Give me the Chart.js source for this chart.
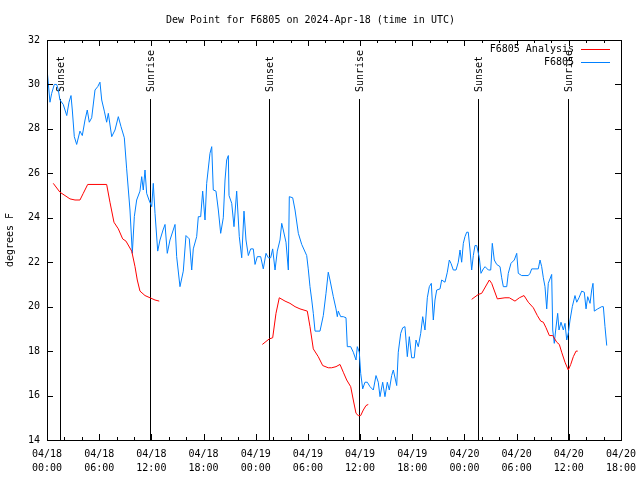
<!DOCTYPE html>
<html>
<head>
<meta charset="utf-8">
<script src="https://cdn.jsdelivr.net/npm/chart.js@4/dist/chart.umd.min.js"></script>
<style>
  html, body { margin: 0; padding: 0; background: #ffffff; }
  #wrap { width: 640px; height: 480px; }
</style>
</head>
<body>
<div id="wrap"><canvas id="c" width="640" height="480"></canvas></div>
<script>
// ---- data (hours since 2024-04-18 00:00 UTC) ----
const obsHours = [0.05,0.34,0.54,0.84,1.12,1.30,1.49,1.87,2.27,2.53,2.76,2.91,3.14,3.41,3.79,4.06,4.37,4.63,4.86,5.14,5.52,5.83,6.09,6.29,6.59,6.86,7.05,7.44,7.82,8.20,8.51,8.89,9.16,9.54,9.81,10.04,10.31,10.69,10.89,11.07,11.27,11.46,11.73,12.04,12.22,12.42,12.73,12.99,13.34,13.57,13.83,14.14,14.72,14.91,15.29,15.67,15.98,16.36,16.64,16.82,17.21,17.40,17.67,17.90,18.17,18.36,18.74,18.94,19.12,19.43,19.70,19.97,20.27,20.47,20.66,20.85,20.93,21.24,21.50,21.81,22.11,22.39,22.65,22.88,23.15,23.42,23.72,23.92,24.18,24.57,24.87,25.18,25.45,25.72,25.95,26.22,26.48,26.79,26.99,27.17,27.48,27.75,27.86,28.25,28.52,28.90,29.29,29.86,30.04,30.24,30.44,30.62,30.82,31.39,31.77,32.08,32.34,32.54,32.92,33.23,33.38,33.49,33.77,34.07,34.38,34.53,34.92,35.22,35.53,35.68,35.91,36.07,36.30,36.56,36.83,37.14,37.52,37.83,38.09,38.29,38.60,38.86,39.13,39.36,39.63,39.82,40.21,40.39,40.67,40.90,41.16,41.43,41.66,41.93,42.23,42.43,42.69,42.97,43.20,43.46,43.73,43.96,44.19,44.42,44.61,44.81,45.19,45.38,45.76,46.03,46.26,46.45,46.72,47.03,47.29,47.49,47.68,47.87,48.06,48.26,48.44,48.64,48.83,49.02,49.21,49.41,49.71,49.90,50.17,50.37,50.75,51.02,51.20,51.43,51.71,52.09,52.28,52.47,52.86,53.04,53.35,53.73,54.01,54.19,54.58,55.34,55.54,55.73,56.49,56.69,56.88,57.07,57.26,57.46,57.64,58.03,58.15,58.33,58.49,58.72,58.87,59.10,59.37,59.56,59.76,59.94,60.14,60.40,60.71,60.91,61.17,61.48,61.78,61.98,62.17,62.44,62.63,62.78,62.93,63.32,63.78,63.97,64.16,64.36];
const obsDewpt = [30.5,29.2,29.6,30.0,30.0,29.75,29.3,29.1,28.6,29.2,29.5,28.85,27.65,27.3,27.9,27.7,28.4,28.85,28.3,28.5,29.75,29.9,30.1,29.3,28.8,28.3,28.7,27.65,27.95,28.55,28.1,27.6,26.2,24.35,22.4,24.05,24.8,25.2,25.85,25.25,26.15,25.1,24.8,24.5,25.55,24.2,22.5,23.0,23.45,23.7,22.4,23.0,23.7,22.25,20.9,21.6,23.2,23.05,21.65,22.6,23.15,24.05,24.05,25.2,23.9,25.55,26.9,27.2,25.25,25.2,24.35,23.3,24.0,25.7,26.6,26.8,25.0,24.65,23.6,25.2,23.15,22.2,24.3,23.0,22.3,22.6,22.6,21.9,22.25,22.25,21.7,22.4,22.2,22.2,22.6,21.65,22.5,23.0,23.75,23.45,22.9,21.65,24.95,24.9,24.35,23.3,22.8,22.3,21.7,20.9,20.3,19.7,18.9,18.9,19.6,20.6,21.55,21.2,20.45,19.9,19.55,19.8,19.55,19.55,19.5,18.2,18.2,17.95,17.6,18.2,17.95,17.0,16.3,16.6,16.6,16.4,16.25,16.9,16.6,15.95,16.6,15.95,16.6,16.25,16.9,17.15,16.45,17.95,18.8,19.05,19.1,17.75,18.65,17.7,17.7,18.5,18.2,18.8,19.55,18.95,20.4,20.9,21.05,19.4,20.3,20.75,20.8,21.2,21.1,21.55,22.1,21.95,21.65,21.65,22.0,22.55,22.0,22.85,23.15,23.35,23.35,22.55,21.65,22.3,22.75,22.75,22.2,21.5,21.7,21.8,21.65,21.65,22.85,22.1,21.9,21.8,21.3,20.9,20.9,21.5,21.95,22.1,22.4,21.5,21.4,21.4,21.5,21.7,21.7,22.1,21.8,21.3,20.9,19.9,21.05,21.45,18.95,18.35,18.95,19.7,18.95,19.3,18.95,19.25,18.5,18.8,19.4,20.0,20.5,20.2,20.4,20.7,20.65,19.9,20.45,20.15,20.75,21.05,19.8,19.9,20.0,20.0,19.1,18.25];

const analysisHours = [0.72,1.49,2.07,2.64,3.22,3.79,4.17,4.68,6.86,7.24,7.70,8.20,8.70,9.08,9.74,10.12,10.38,10.69,11.27,11.84,12.42,12.91,
  18.0,
  24.76,25.56,25.95,26.33,26.71,27.37,27.94,28.52,29.09,29.93,30.24,30.62,31.19,31.70,32.34,32.73,33.23,33.69,34.07,34.46,34.92,35.22,35.53,35.79,36.07,36.37,36.68,36.94,
  43.0,
  48.83,49.59,49.98,50.86,51.13,51.78,52.66,53.16,53.81,54.31,54.85,55.34,55.92,56.38,56.77,57.07,57.38,57.76,58.15,58.61,58.91,59.18,59.56,59.94,60.22,60.52,60.83,61.02];
const analysisDewpt = [25.55,25.15,25.0,24.85,24.8,24.8,25.1,25.5,25.5,24.7,23.8,23.5,23.05,22.95,22.5,21.8,21.2,20.7,20.5,20.4,20.3,20.25,
  null,
  18.3,18.55,18.6,19.7,20.4,20.25,20.15,20.0,19.9,19.8,19.1,18.1,17.75,17.35,17.25,17.25,17.3,17.4,17.05,16.7,16.4,15.8,15.2,15.1,15.1,15.35,15.55,15.6,
  null,
  20.33,20.55,20.6,21.2,21.05,20.35,20.4,20.4,20.25,20.4,20.5,20.2,19.95,19.6,19.35,19.3,19.05,18.7,18.7,18.4,18.3,17.95,17.5,17.15,17.4,17.75,18.0,18.0];

const eventHours = [1.53, 11.88, 25.56, 35.87, 49.59, 59.92];
const eventLabels = ['Sunset', 'Sunrise', 'Sunset', 'Sunrise', 'Sunset', 'Sunrise'];

const xTickHours = [0, 6, 12, 18, 24, 30, 36, 42, 48, 54, 60, 66];
const xTickLabels = [['04/18','00:00'],['04/18','06:00'],['04/18','12:00'],['04/18','18:00'],
                     ['04/19','00:00'],['04/19','06:00'],['04/19','12:00'],['04/19','18:00'],
                     ['04/20','00:00'],['04/20','06:00'],['04/20','12:00'],['04/20','18:00']];
const seriesNames = ['F6805 Analysis', 'F6805'];
const chartTitle = 'Dew Point for F6805 on 2024-Apr-18 (time in UTC)';

// ---- styling ----
const FONT = '"DejaVu Sans Mono", monospace';
const RED = '#ff0000';
const BLUE = '#0080ff';

const obsPoints = obsHours.map((h, i) => ({ x: h, y: obsDewpt[i] }));
const analysisPoints = analysisHours.map((h, i) => ({ x: h, y: analysisDewpt[i] }));

const decorPlugin = {
  id: 'decor',
  beforeDatasetsDraw(chart) {
    const { ctx, chartArea: a, scales } = chart;
    ctx.save();
    ctx.strokeStyle = '#000';
    ctx.lineWidth = 1;
    ctx.fillStyle = '#000';
    ctx.font = '10px ' + FONT;
    eventHours.forEach((h, i) => {
      const x = Math.round(scales.x.getPixelForValue(h)) + 0.5;
      ctx.beginPath();
      ctx.moveTo(x, 99);
      ctx.lineTo(x, a.bottom);
      ctx.stroke();
      ctx.save();
      ctx.translate(x + 1, 92);
      ctx.rotate(-Math.PI / 2);
      ctx.textAlign = 'left';
      ctx.textBaseline = 'middle';
      ctx.fillText(eventLabels[i], 0, 0);
      ctx.restore();
    });
    ctx.restore();
  },
  afterDatasetsDraw(chart) {
    const { ctx, chartArea: a, scales } = chart;
    ctx.save();
    ctx.strokeStyle = '#000';
    ctx.lineWidth = 1;
    // frame
    ctx.strokeRect(a.left + 0.5, a.top + 0.5, a.right - a.left, a.bottom - a.top);
    // x ticks (every 2h, major every 6h), inward on bottom and top
    ctx.beginPath();
    for (let h = 2; h < 66; h += 2) {
      const x = Math.round(scales.x.getPixelForValue(h)) + 0.5;
      const len = (h % 6 === 0) ? 6 : 3;
      ctx.moveTo(x, a.bottom); ctx.lineTo(x, a.bottom - len);
      ctx.moveTo(x, a.top); ctx.lineTo(x, a.top + len);
    }
    // y ticks inward on left and right
    for (let v = 16; v < 32; v += 2) {
      const y = Math.round(scales.y.getPixelForValue(v)) + 0.5;
      ctx.moveTo(a.left, y); ctx.lineTo(a.left + 6, y);
      ctx.moveTo(a.right, y); ctx.lineTo(a.right - 6, y);
    }
    ctx.stroke();
    // legend
    ctx.font = '10px ' + FONT;
    ctx.fillStyle = '#000';
    ctx.textAlign = 'right';
    ctx.textBaseline = 'middle';
    const colors = [RED, BLUE];
    const ys = [49, 62];
    seriesNames.forEach((name, i) => {
      ctx.fillText(name, 574, ys[i]);
      ctx.strokeStyle = colors[i];
      ctx.beginPath();
      ctx.moveTo(581, ys[i] + 0.5);
      ctx.lineTo(610, ys[i] + 0.5);
      ctx.stroke();
    });
    ctx.restore();
  }
};

new Chart(document.getElementById('c'), {
  type: 'line',
  data: {
    datasets: [
      { label: seriesNames[0], data: analysisPoints, borderColor: RED, backgroundColor: RED,
        borderWidth: 1, pointRadius: 0, tension: 0, spanGaps: false, fill: false },
      { label: seriesNames[1], data: obsPoints, borderColor: BLUE, backgroundColor: BLUE,
        borderWidth: 1, pointRadius: 0, tension: 0, fill: false }
    ]
  },
  options: {
    responsive: false,
    animation: false,
    devicePixelRatio: 1,
    layout: { padding: { left: 0, right: 19, top: 0, bottom: 0 } },
    plugins: {
      legend: { display: false },
      tooltip: { enabled: false },
      title: {
        display: true, text: chartTitle, color: '#000',
        font: { family: FONT, size: 10, weight: 'normal', lineHeight: 1.2 },
        padding: { top: 14, bottom: 14 }
      }
    },
    scales: {
      x: {
        type: 'linear', min: 0, max: 66,
        afterBuildTicks: (s) => { s.ticks = xTickHours.map(v => ({ value: v })); },
        afterFit: (s) => { s.height = 40; s.paddingLeft = 0; s.paddingRight = 0; },
        grid: { display: false, drawTicks: false },
        border: { display: false },
        ticks: {
          autoSkip: false, maxRotation: 0, minRotation: 0, padding: 7, color: '#000',
          font: { family: FONT, size: 10, lineHeight: 1.4 },
          callback: (v) => xTickLabels[xTickHours.indexOf(v)]
        }
      },
      y: {
        min: 14, max: 32,
        afterFit: (s) => { s.width = 47; s.paddingTop = 0; s.paddingBottom = 0; },
        grid: { display: false, drawTicks: false },
        border: { display: false },
        ticks: { stepSize: 2, padding: 7, color: '#000', font: { family: FONT, size: 10 } },
        title: { display: true, text: 'degrees F', color: '#000',
                 font: { family: FONT, size: 10, lineHeight: 1.2 }, padding: { top: 4, bottom: 0 } }
      }
    }
  },
  plugins: [decorPlugin]
});
</script>
</body>
</html>
